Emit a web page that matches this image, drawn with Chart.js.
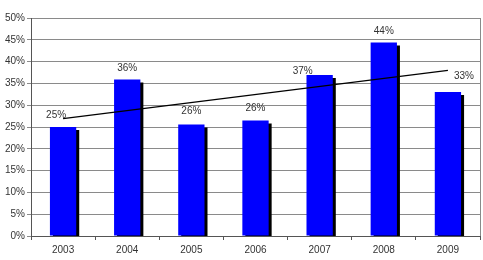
<!DOCTYPE html>
<html>
<head>
<meta charset="utf-8">
<script src="https://cdn.jsdelivr.net/npm/chart.js@4"></script>
<style>
  html, body { margin: 0; padding: 0; background: #fff; }
  #wrap { width: 483px; height: 260px; }
</style>
</head>
<body>
<div id="wrap"><canvas id="chart" width="483" height="260"></canvas></div>
<script>
// data
const years = ['2003', '2004', '2005', '2006', '2007', '2008', '2009'];
const shares = [25.0, 35.9, 25.6, 26.5, 36.9, 44.4, 33.0];
const shareLabels = ['25%', '36%', '26%', '26%', '37%', '44%', '33%'];
const trend = [26.9, null, null, null, null, null, 38.0];
const yTicks = [0, 5, 10, 15, 20, 25, 30, 35, 40, 45, 50];

// where each value label sits relative to the top of its bar (px)
const labelShift = [[-7, -12], [0, -11], [0, -13], [0, -12], [-17, -4], [0, -11], [16, -16]];

const shadowPlugin = {
    id: 'barShadow',
    beforeDatasetDraw(chart, args) {
        if (args.index !== 0) return;
        const ctx = chart.ctx;
        ctx.save();
        ctx.shadowColor = '#000';
        ctx.shadowOffsetX = 3;
        ctx.shadowOffsetY = 3;
        ctx.shadowBlur = 0;
    },
    afterDatasetDraw(chart, args) {
        if (args.index !== 0) return;
        chart.ctx.restore();
    }
};

const framePlugin = {
    id: 'frame',
    beforeDatasetsDraw(chart) {
        const a = chart.chartArea;
        const ctx = chart.ctx;
        ctx.save();
        ctx.strokeStyle = '#8a8a8a';
        ctx.lineWidth = 1;
        ctx.beginPath();
        ctx.moveTo(Math.round(a.right) + 0.5, a.top);
        ctx.lineTo(Math.round(a.right) + 0.5, a.bottom);
        ctx.stroke();
        ctx.restore();
    }
};

const labelPlugin = {
    id: 'valueLabels',
    afterDatasetsDraw(chart) {
        const ctx = chart.ctx;
        const bars = chart.getDatasetMeta(0).data;
        ctx.save();
        ctx.font = '10px "Liberation Sans", Arial, sans-serif';
        ctx.fillStyle = '#333';
        ctx.textAlign = 'center';
        ctx.textBaseline = 'middle';
        bars.forEach(function (bar, i) {
            ctx.fillText(shareLabels[i], bar.x + labelShift[i][0], bar.y + labelShift[i][1]);
        });
        ctx.restore();
    }
};

const ctx = document.getElementById('chart').getContext('2d');
new Chart(ctx, {
    data: {
        labels: years,
        datasets: [{
            type: 'bar',
            data: shares,
            backgroundColor: '#0000ff',
            borderWidth: 0,
            categoryPercentage: 1,
            barPercentage: 0.41,
            order: 1
        }, {
            type: 'line',
            data: trend,
            borderColor: '#000',
            borderWidth: 1.3,
            pointRadius: 0,
            spanGaps: true,
            tension: 0,
            order: 0
        }]
    },
    options: {
        responsive: false,
        animation: false,
        layout: { padding: { top: 18, right: 3, left: 0, bottom: 0 } },
        plugins: {
            legend: { display: false },
            tooltip: { enabled: false }
        },
        scales: {
            x: {
                offset: true,
                grid: {
                    offset: true,
                    drawOnChartArea: false,
                    drawTicks: true,
                    tickLength: 4,
                    color: '#555'
                },
                border: { color: '#555' },
                ticks: {
                    color: '#333',
                    font: { family: '"Liberation Sans", Arial, sans-serif', size: 10 },
                    maxRotation: 0,
                    padding: 4
                },
                afterFit(scale) { scale.height = 24; }
            },
            y: {
                min: 0,
                max: 50,
                afterBuildTicks(scale) {
                    scale.ticks = yTicks.map(v => ({ value: v }));
                },
                grid: {
                    color: '#8a8a8a',
                    tickLength: 4,
                    drawTicks: true
                },
                border: { color: '#555' },
                ticks: {
                    color: '#333',
                    font: { family: '"Liberation Sans", Arial, sans-serif', size: 10 },
                    padding: 2,
                    callback: v => v + '%'
                },
                afterFit(scale) { scale.width = 31; }
            }
        }
    },
    plugins: [shadowPlugin, framePlugin, labelPlugin]
});
</script>
</body>
</html>
